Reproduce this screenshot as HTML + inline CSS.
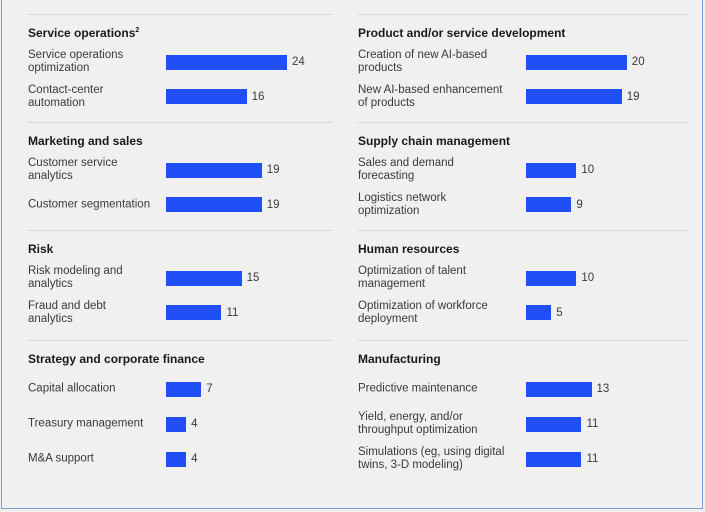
<!DOCTYPE html>
<html><head><meta charset="utf-8"><style>
body{margin:0;background:#fff;}
#root{position:relative;width:705px;height:512px;overflow:hidden;background:#f0f0f0;font-family:"Liberation Sans",sans-serif;}
#frame{position:absolute;left:1px;top:0;width:700px;height:508px;border:1.5px solid #7f9dd2;border-top:none;}
.div{position:absolute;height:1px;background:#d6d6d6;}
.title{position:absolute;font-weight:bold;font-size:12px;color:#1a1a1a;}
.lab{position:absolute;font-size:11.5px;line-height:13px;color:#3a3a3a;transform:translateY(-50%);}
.bar{position:absolute;background:#1f4ff5;height:15px;}
.val{position:absolute;font-size:11.5px;color:#3a3a3a;transform:translateY(-50%);}
</style></head><body>
<div id="root">
<div id="frame"></div>
</div>
<script>
const sections = ["Service operations","Marketing and sales","Risk","Strategy and corporate finance","Product and/or service development","Supply chain management","Human resources","Manufacturing"];
const labels = [
 ["Service operations<br>optimization","Contact-center<br>automation"],
 ["Customer service<br>analytics","Customer segmentation"],
 ["Risk modeling and<br>analytics","Fraud and debt<br>analytics"],
 ["Capital allocation","Treasury management","M&amp;A support"],
 ["Creation of new AI-based<br>products","New AI-based enhancement<br>of products"],
 ["Sales and demand<br>forecasting","Logistics network<br>optimization"],
 ["Optimization of talent<br>management","Optimization of workforce<br>deployment"],
 ["Predictive maintenance","Yield, energy, and/or<br>throughput optimization","Simulations (eg, using digital<br>twins, 3-D modeling)"]
];
const values = [[24,16],[19,19],[15,11],[7,4,4],[20,19],[10,9],[10,5],[13,11,11]];

const root=document.getElementById('root');
const unit=5.04;
const sectionTop=[14,122,230,340];
function add(cls,css,html){const e=document.createElement('div');e.className=cls;Object.assign(e.style,css);if(html!==undefined)e.innerHTML=html;root.appendChild(e);return e;}
for(let s=0;s<8;s++){
 const col=s<4?0:1, r=s%4;
 const x0=col?358:28, w=col?330:304, bx=col?526:166;
 const top=sectionTop[r];
 const d=add('div',{left:x0+'px',top:top+'px',width:w+'px'});
 
 
 const t=add('title',{left:x0+'px',top:(top+12)+'px'},sections[s]+(s===0?'<sup style="font-size:7px">2</sup>':''));
 
 
 const n=values[s].length;
 const first=top+48+(n===3?1:0), step=n===3?35:34.5;
 for(let i=0;i<n;i++){
  const cy=first+i*step;
  const l=add('lab',{left:x0+'px',top:cy+'px'},labels[s][i]);
  
  
  const bw=values[s][i]*unit;
  const b=add('bar',{left:bx+'px',top:(cy-7.5)+'px',width:bw+'px'});
  
  
  const v=add('val',{left:(bx+bw+5)+'px',top:cy+'px'},values[s][i]);
  
  
 }
}
</script>
</body></html>
